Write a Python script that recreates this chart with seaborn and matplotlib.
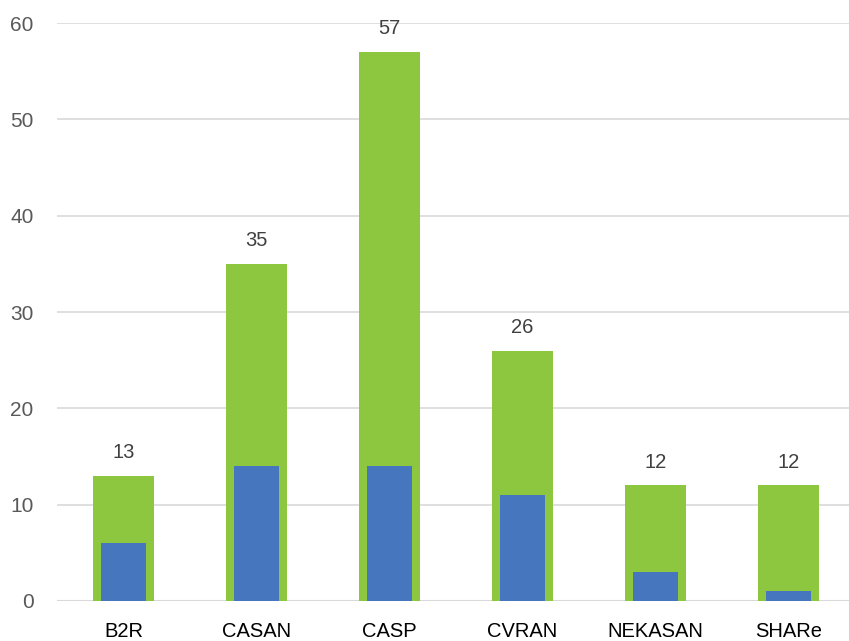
import matplotlib
matplotlib.use("Agg")
import matplotlib.pyplot as plt
import seaborn as sns
import pandas as pd

# Programme totals and the subset shown as the inner bar
categories = ["B2R", "CASAN", "CASP", "CVRAN", "NEKASAN", "SHARe"]
total_values = [13, 35, 57, 26, 12, 12]
subset_values = [6, 14, 14, 11, 3, 1]
y_ticks = [0, 10, 20, 30, 40, 50, 60]

GREEN = "#8DC63F"
BLUE = "#4677BE"
GRID = "#D9D9D9"

sns.set_theme(style="white")
plt.rcParams["font.family"] = ["Liberation Sans", "DejaVu Sans"]

df = pd.DataFrame({"category": categories,
                   "total": total_values,
                   "subset": subset_values})

fig = plt.figure(figsize=(8.49, 6.41), dpi=100)
ax = fig.add_axes([57 / 849, 40 / 641, 792 / 849, 578 / 641])

sns.barplot(data=df, x="category", y="total", color=GREEN, width=0.46,
            saturation=1, linewidth=0, edgecolor="none", ax=ax, zorder=2)
sns.barplot(data=df, x="category", y="subset", color=BLUE, width=0.34,
            saturation=1, linewidth=0, edgecolor="none", ax=ax, zorder=3)

ax.bar_label(ax.containers[0], labels=[str(v) for v in total_values],
             padding=10, fontsize=14.5, color="#404040")

ax.set_ylim(0, 60)
ax.set_xlim(-0.5, 5.455)
ax.set_yticks(y_ticks)
ax.set_yticklabels([str(t) for t in y_ticks])
ax.yaxis.grid(True, color=GRID, linewidth=1.2, zorder=0)
ax.set_axisbelow(True)
for side in ["top", "right", "left", "bottom"]:
    ax.spines[side].set_visible(False)
ax.axhline(0, color=GRID, linewidth=1.5, zorder=1)

ax.set_xlabel("")
ax.set_ylabel("")
ax.tick_params(axis="y", length=0, pad=17, labelsize=15, labelcolor="#595959")
ax.tick_params(axis="x", length=0, pad=15, labelsize=14.5, labelcolor="#000000")

fig.savefig("out.png", dpi=100)
